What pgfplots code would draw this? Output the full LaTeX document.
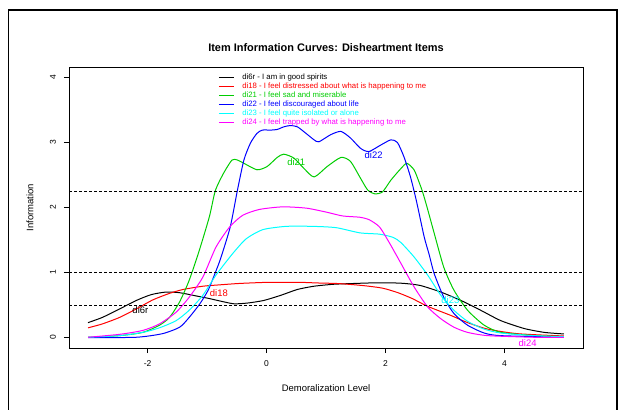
\documentclass[border=0pt]{standalone}
\usepackage{pgfplots}
\pgfplotsset{compat=1.18}
\usepackage{fontspec}
\setmainfont{Liberation Sans}
\definecolor{rgreen}{HTML}{00CD00}
\definecolor{rcyan}{HTML}{00FFFF}
\definecolor{rmag}{HTML}{FF00FF}
\newcommand{\fs}[1]{\fontsize{#1}{#1}\selectfont}

\begin{document}
\begin{tikzpicture}
\useasboundingbox (0,0) rectangle (618bp,410bp);
% outer frame
\draw[line width=1.6bp] (8.5bp,-5bp) -- (8.5bp,400bp) -- (617bp,400bp) -- (617bp,-5bp);
\begin{axis}[
    at={(69bp,62bp)}, anchor=south west,
    scale only axis, width=514bp, height=281bp,
    xmin=-3.32, xmax=5.32, ymin=-0.16, ymax=4.16,
    xtick={-2,0,2,4}, xticklabels={{-2},{0},{2},{4}},
    ytick={0,1,2,3,4}, yticklabels={{0},{1},{2},{3},{4}},
    tick align=outside, major tick length=5bp,
    tick style={black, line width=0.8bp},
    xtick pos=bottom, ytick pos=left,
    axis line style={line width=0.8bp},
    xticklabel style={font=\fs{8.5}, yshift=-4bp},
    yticklabel style={font=\fs{8.5}, rotate=90, anchor=south, yshift=4.5bp},
    title={\bfseries Item Information Curves: Disheartment Items},
    title style={font=\fs{11}, at={(axis description cs:0.5,1)}, anchor=center, yshift=13.5bp},
    xlabel={Demoralization Level},
    xlabel style={font=\fs{9.5}, at={(axis description cs:0.5,0)}, anchor=center, yshift=-40bp},
    ylabel={Information},
    ylabel style={font=\fs{9.5}, at={(axis description cs:-0.0759,0.5)}, anchor=center},
    legend cell align=left,
    legend image code/.code={\draw[#1] (0bp,0bp) -- (15bp,0bp); \path (23bp,0bp);},
    legend style={draw=none, fill=none, at={(axis description cs:0.29,0.977)}, anchor=north west,
        font=\fs{7.8}, inner sep=0pt, row sep=1.2bp, column sep=0pt,
        nodes={inner sep=0pt, text height=6bp, text depth=1.7bp}},
    every axis plot/.append style={line width=1bp, smooth, tension=0.4},
]
\addplot[black] coordinates {(-3.0,0.23)(-2.76,0.31)(-2.47,0.44)(-2.19,0.57)(-1.94,0.66)(-1.69,0.70)(-1.46,0.69)(-1.18,0.64)(-0.96,0.60)(-0.77,0.56)(-0.55,0.52)(-0.33,0.53)(-0.05,0.57)(0.24,0.65)(0.52,0.74)(0.80,0.79)(1.13,0.82)(1.41,0.83)(1.75,0.84)(2.15,0.84)(2.35,0.83)(2.59,0.80)(2.93,0.70)(3.27,0.57)(3.60,0.42)(3.94,0.26)(4.33,0.14)(4.67,0.08)(5.0,0.056)};
\addlegendentry{di6r - I am in good spirits}
\addplot[red] coordinates {(-3.0,0.15)(-2.76,0.21)(-2.47,0.31)(-2.19,0.44)(-1.91,0.58)(-1.63,0.68)(-1.40,0.74)(-1.07,0.79)(-0.80,0.81)(-0.50,0.83)(-0.27,0.84)(0.03,0.85)(0.29,0.85)(0.56,0.85)(0.85,0.84)(1.22,0.83)(1.62,0.80)(1.95,0.76)(2.21,0.69)(2.45,0.60)(2.71,0.48)(3.10,0.34)(3.38,0.23)(3.72,0.13)(4.22,0.06)(5.0,0.025)};
\addlegendentry{\textcolor{red}{di18 - I feel distressed about what is happening to me}}
\addplot[rgreen] coordinates {(-3.0,0.005)(-2.47,0.03)(-2.08,0.08)(-1.80,0.19)(-1.63,0.31)(-1.46,0.55)(-1.30,0.88)(-1.13,1.34)(-0.96,1.86)(-0.86,2.26)(-0.72,2.53)(-0.58,2.73)(-0.49,2.73)(-0.38,2.68)(-0.16,2.58)(0.01,2.63)(0.18,2.77)(0.29,2.82)(0.46,2.76)(0.63,2.60)(0.80,2.47)(1.02,2.63)(1.25,2.77)(1.41,2.71)(1.58,2.45)(1.70,2.27)(1.82,2.21)(1.95,2.24)(2.09,2.42)(2.26,2.60)(2.36,2.68)(2.48,2.58)(2.56,2.40)(2.62,2.25)(2.70,2.00)(2.82,1.60)(2.98,1.08)(3.15,0.73)(3.38,0.42)(3.66,0.19)(3.94,0.08)(4.50,0.03)(5.0,0.015)};
\addlegendentry{\textcolor{rgreen}{di21 - I feel sad and miserable}}
\addplot[blue] coordinates {(-3.0,0.0)(-2.19,0.005)(-1.75,0.06)(-1.46,0.16)(-1.30,0.31)(-1.12,0.52)(-0.98,0.73)(-0.86,1.0)(-0.77,1.22)(-0.61,1.70)(-0.49,2.26)(-0.38,2.73)(-0.27,2.99)(-0.16,3.14)(-0.07,3.19)(0.07,3.19)(0.18,3.20)(0.29,3.24)(0.40,3.26)(0.52,3.24)(0.69,3.12)(0.80,3.04)(0.88,3.01)(1.08,3.12)(1.25,3.17)(1.41,3.07)(1.58,2.91)(1.72,2.86)(1.92,2.96)(2.09,3.04)(2.20,3.00)(2.31,2.78)(2.42,2.47)(2.52,2.10)(2.65,1.55)(2.73,1.29)(2.82,0.98)(2.98,0.62)(3.15,0.37)(3.38,0.19)(3.66,0.07)(3.94,0.03)(5.0,0.005)};
\addlegendentry{\textcolor{blue}{di22 - I feel discouraged about life}}
\addplot[rcyan] coordinates {(-3.0,0.005)(-2.47,0.03)(-2.08,0.08)(-1.80,0.15)(-1.52,0.26)(-1.30,0.42)(-1.07,0.65)(-0.85,0.96)(-0.57,1.29)(-0.34,1.52)(-0.06,1.66)(0.33,1.71)(0.78,1.71)(1.17,1.69)(1.57,1.61)(1.90,1.59)(2.13,1.54)(2.26,1.46)(2.48,1.24)(2.71,0.96)(2.93,0.65)(3.15,0.42)(3.38,0.25)(3.66,0.13)(3.94,0.07)(4.5,0.03)(5.0,0.015)};
\addlegendentry{\textcolor{rcyan}{di23 - I feel quite isolated or alone}}
\addplot[rmag] coordinates {(-3.0,0.005)(-2.47,0.05)(-2.08,0.11)(-1.80,0.21)(-1.52,0.39)(-1.30,0.62)(-1.07,0.93)(-0.85,1.39)(-0.62,1.70)(-0.40,1.88)(-0.12,1.97)(0.27,2.01)(0.67,1.99)(1.00,1.93)(1.28,1.87)(1.57,1.85)(1.73,1.81)(1.90,1.70)(2.07,1.45)(2.26,1.14)(2.48,0.78)(2.71,0.47)(2.93,0.29)(3.15,0.16)(3.38,0.08)(3.72,0.03)(4.5,0.005)(5.0,0.005)};
\addlegendentry{\textcolor{rmag}{di24 - I feel trapped by what is happening to me}}
% reference lines
\addplot[black, line width=0.8bp, dash pattern=on 3bp off 2bp, sharp plot, forget plot] coordinates {(-3.32,2.25)(5.32,2.25)};
\addplot[black, line width=0.8bp, dash pattern=on 3bp off 2bp, sharp plot, forget plot] coordinates {(-3.32,1)(5.32,1)};
\addplot[black, line width=0.8bp, dash pattern=on 3bp off 2bp, sharp plot, forget plot] coordinates {(-3.32,0.5)(5.32,0.5)};
% curve labels
\node[font=\fs{9.5}, black] at (axis cs:-2.12,0.42) {di6r};
\node[font=\fs{9.5}, red] at (axis cs:-0.80,0.69) {di18};
\node[font=\fs{9.5}, rgreen] at (axis cs:0.50,2.70) {di21};
\node[font=\fs{9.5}, blue] at (axis cs:1.80,2.80) {di22};
\node[font=\fs{9.5}, rcyan] at (axis cs:3.09,0.57) {di23};
\node[font=\fs{9.5}, rmag] at (axis cs:4.39,-0.09) {di24};
\end{axis}
\end{tikzpicture}
\end{document}
